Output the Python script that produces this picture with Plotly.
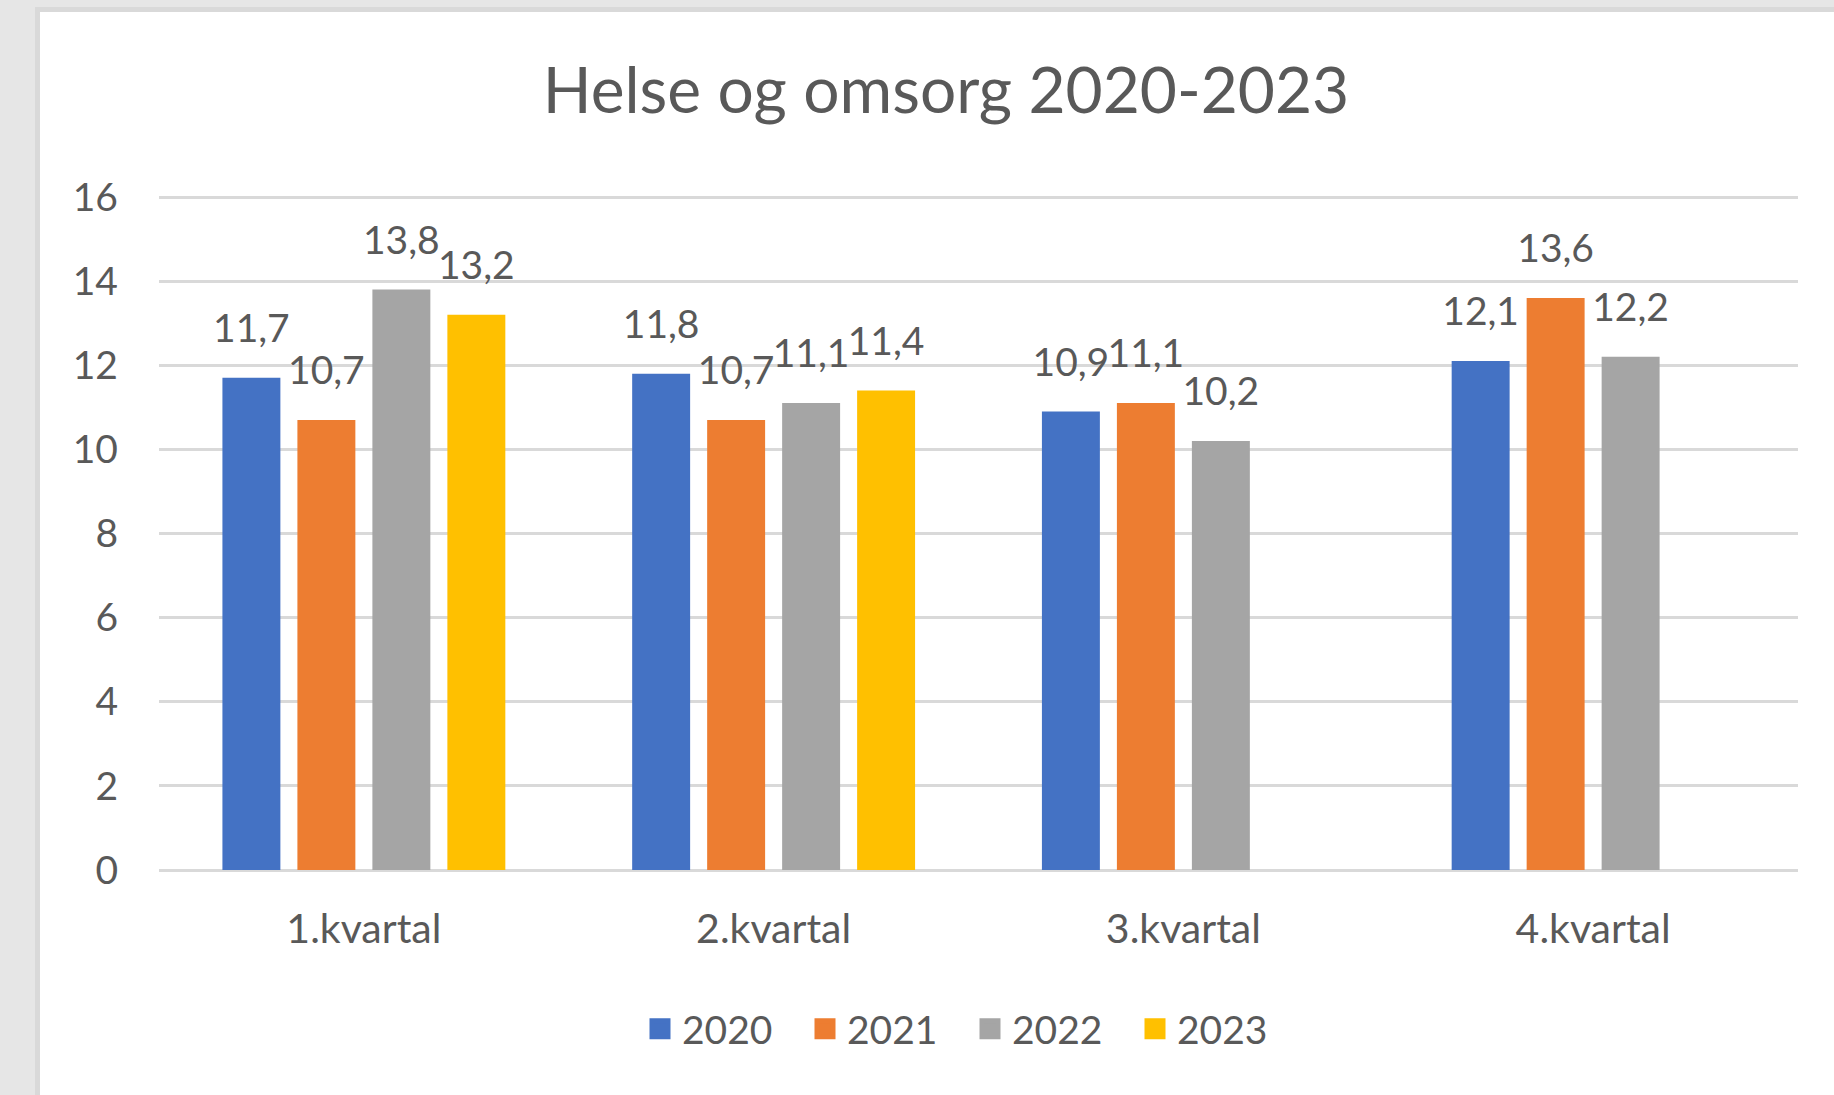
import plotly.graph_objects as go

categories = ["1.kvartal", "2.kvartal", "3.kvartal", "4.kvartal"]
years = ["2020", "2021", "2022", "2023"]
v2020 = [11.7, 11.8, 10.9, 12.1]
v2021 = [10.7, 10.7, 11.1, 13.6]
v2022 = [13.8, 11.1, 10.2, 12.2]
v2023 = [13.2, 11.4, None, None]
series = [v2020, v2021, v2022, v2023]
colors = ["#4472C4", "#ED7D31", "#A5A5A5", "#FFC000"]
y_ticks = [0, 2, 4, 6, 8, 10, 12, 14, 16]

W_PX, H_PX = 1834, 1095
L, R, T, B = 159, 1798, 192, 870
PW, PH = R - L, B - T
Y_TOP = 16 * PH / (B - 197)


def xp(px):
    return (px - L) / PW


def yp(py):
    return (B - py) / PH


FONT = "Lato"
TXT = "#595959"
FS = 39
BARGAP = 0.268

fig = go.Figure()
for name, vals, col in zip(years, series, colors):
    fig.add_trace(go.Bar(
        x=categories, y=vals, name=name, offsetgroup=name,
        marker=dict(color=col, line=dict(width=0)),
        hoverinfo="skip", showlegend=False,
    ))
for name, vals, col in zip(years, series, colors):
    fig.add_trace(go.Scatter(
        x=categories, y=vals, offsetgroup=name, mode="markers+text",
        text=[None if v is None else f"{v:.1f}".replace(".", ",") for v in vals],
        textposition="top center",
        textfont=dict(family=FONT, size=FS, color=TXT),
        marker=dict(size=40, opacity=0, color=col),
        showlegend=False, hoverinfo="skip", cliponaxis=False,
    ))
# legend entries
for name, col in zip(years, colors):
    fig.add_trace(go.Scatter(
        x=[None], y=[None], name=name, mode="markers",
        marker=dict(symbol="square", size=16, color=col, line=dict(color=col, width=5)),
        showlegend=True, hoverinfo="skip",
    ))

fig.update_layout(
    width=W_PX, height=H_PX,
    margin=dict(l=L, r=W_PX - R, t=T, b=H_PX - B, pad=0),
    paper_bgcolor="#e6e6e6",
    plot_bgcolor="rgba(0,0,0,0)",
    barmode="group", bargap=BARGAP, bargroupgap=0.227,
    scattermode="group", scattergap=BARGAP,
    separators=", ",
    font=dict(family=FONT, size=FS, color=TXT),
    title=dict(text="Helse og omsorg 2020-2023", x=946 / W_PX, xref="container",
               xanchor="center", y=1 - 91 / H_PX, yref="container", yanchor="middle",
               font=dict(family=FONT, size=64, color=TXT)),
    legend=dict(orientation="h", x=xp(968), xanchor="center", y=yp(1029), yanchor="middle",
                font=dict(family=FONT, size=FS, color=TXT), bgcolor="rgba(0,0,0,0)",
                itemwidth=34, traceorder="normal", entrywidth=116),
    showlegend=True,
    shapes=[
        dict(type="rect", xref="paper", yref="paper", layer="below",
             x0=xp(35), x1=xp(W_PX + 20), y0=yp(7), y1=yp(H_PX + 20),
             fillcolor="#d9d9d9", line=dict(width=0)),
        dict(type="rect", xref="paper", yref="paper", layer="below",
             x0=xp(40), x1=xp(W_PX + 20), y0=yp(12), y1=yp(H_PX + 20),
             fillcolor="#ffffff", line=dict(width=0)),
    ],
)
fig.update_xaxes(type="category", showgrid=False, zeroline=False, showline=False,
                 ticks="", ticklabelstandoff=31,
                 tickfont=dict(family=FONT, size=41, color=TXT), fixedrange=True)
fig.update_yaxes(range=[0, Y_TOP], tickvals=y_ticks, showgrid=True, gridcolor="#d9d9d9",
                 gridwidth=3, zeroline=True, zerolinecolor="#d9d9d9", zerolinewidth=3,
                 showline=False, ticks="", ticklabelstandoff=40,
                 tickfont=dict(family=FONT, size=FS, color=TXT), fixedrange=True)

fig.write_html("out.html", config={"displayModeBar": False},
               post_script="document.body.style.margin='0';")
